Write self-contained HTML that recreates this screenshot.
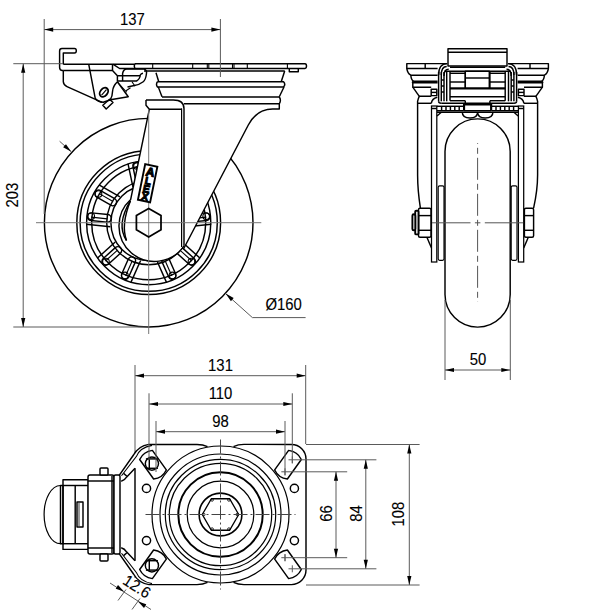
<!DOCTYPE html>
<html><head><meta charset="utf-8"><style>
html,body{margin:0;padding:0;background:#fff;width:600px;height:610px;overflow:hidden}
svg{display:block}
text{font-family:"Liberation Sans",sans-serif;fill:#000}
.t{stroke:#000;stroke-width:0.12}
</style></head><body>
<svg width="600" height="610" viewBox="0 0 600 610">
<rect width="600" height="610" fill="#fff"/>
<circle cx="148.70" cy="222.70" r="104.30" fill="#fff" stroke="#000" stroke-width="1.45" stroke-linejoin="round"/>
<circle cx="148.70" cy="222.70" r="71.90" fill="none" stroke="#000" stroke-width="1.45" stroke-linejoin="round"/>
<circle cx="148.70" cy="222.70" r="68.60" fill="none" stroke="#000" stroke-width="1.45" stroke-linejoin="round"/>
<circle cx="148.70" cy="222.70" r="62.10" fill="none" stroke="#000" stroke-width="1.45" stroke-linejoin="round"/>
<circle cx="148.70" cy="222.70" r="57.00" fill="none" stroke="#000" stroke-width="1.45" stroke-linejoin="round"/>
<circle cx="148.70" cy="222.70" r="42.00" fill="none" stroke="#000" stroke-width="1.45" stroke-linejoin="round"/>
<circle cx="148.70" cy="222.70" r="37.80" fill="none" stroke="#000" stroke-width="1.45" stroke-linejoin="round"/>
<path d="M161.05,182.90 L164.43,166.95 A3.8,3.8 0 0 0 157.00,165.37 L153.61,181.32 A3.8,3.8 0 0 0 161.05,182.90 Z" fill="none" stroke="#000" stroke-width="1.45" stroke-linejoin="round"/>
<line x1="157.82" y1="182.21" x2="161.21" y2="166.27" fill="none" stroke="#000" stroke-width="1.1"/>
<circle cx="160.42" cy="166.10" r="3.30" fill="none" stroke="#000" stroke-width="1.1"/>
<line x1="164.38" y1="187.39" x2="169.42" y2="163.72" fill="none" stroke="#000" stroke-width="1.45" stroke-linejoin="round"/>
<path d="M136.35,182.90 L132.97,166.95 A3.8,3.8 0 0 1 140.40,165.37 L143.79,181.32 A3.8,3.8 0 0 1 136.35,182.90 Z" fill="none" stroke="#000" stroke-width="1.45" stroke-linejoin="round"/>
<line x1="139.58" y1="182.21" x2="136.19" y2="166.27" fill="none" stroke="#000" stroke-width="1.1"/>
<circle cx="136.98" cy="166.10" r="3.30" fill="none" stroke="#000" stroke-width="1.1"/>
<line x1="133.02" y1="187.39" x2="127.98" y2="163.72" fill="none" stroke="#000" stroke-width="1.45" stroke-linejoin="round"/>
<path d="M114.66,198.66 L100.54,190.51 A3.8,3.8 0 0 0 96.74,197.09 L110.86,205.24 A3.8,3.8 0 0 0 114.66,198.66 Z" fill="none" stroke="#000" stroke-width="1.45" stroke-linejoin="round"/>
<line x1="113.01" y1="201.52" x2="98.89" y2="193.37" fill="none" stroke="#000" stroke-width="1.1"/>
<circle cx="98.49" cy="194.06" r="3.30" fill="none" stroke="#000" stroke-width="1.1"/>
<line x1="119.96" y1="196.87" x2="99.01" y2="184.77" fill="none" stroke="#000" stroke-width="1.45" stroke-linejoin="round"/>
<path d="M107.03,222.14 L90.82,220.44 A3.8,3.8 0 0 1 91.61,212.88 L107.82,214.58 A3.8,3.8 0 0 1 107.03,222.14 Z" fill="none" stroke="#000" stroke-width="1.45" stroke-linejoin="round"/>
<line x1="107.38" y1="218.86" x2="91.16" y2="217.16" fill="none" stroke="#000" stroke-width="1.1"/>
<circle cx="91.25" cy="216.36" r="3.30" fill="none" stroke="#000" stroke-width="1.1"/>
<line x1="110.27" y1="226.70" x2="86.20" y2="224.18" fill="none" stroke="#000" stroke-width="1.45" stroke-linejoin="round"/>
<path d="M115.32,247.64 L103.20,258.55 A3.8,3.8 0 0 0 108.29,264.20 L120.40,253.29 A3.8,3.8 0 0 0 115.32,247.64 Z" fill="none" stroke="#000" stroke-width="1.45" stroke-linejoin="round"/>
<line x1="117.52" y1="250.10" x2="105.41" y2="261.00" fill="none" stroke="#000" stroke-width="1.1"/>
<circle cx="105.95" cy="261.60" r="3.30" fill="none" stroke="#000" stroke-width="1.1"/>
<line x1="115.26" y1="242.05" x2="97.27" y2="258.24" fill="none" stroke="#000" stroke-width="1.45" stroke-linejoin="round"/>
<path d="M135.29,262.16 L128.66,277.05 A3.8,3.8 0 0 1 121.72,273.96 L128.35,259.07 A3.8,3.8 0 0 1 135.29,262.16 Z" fill="none" stroke="#000" stroke-width="1.45" stroke-linejoin="round"/>
<line x1="132.28" y1="260.82" x2="125.65" y2="275.71" fill="none" stroke="#000" stroke-width="1.1"/>
<circle cx="124.92" cy="275.38" r="3.30" fill="none" stroke="#000" stroke-width="1.1"/>
<line x1="140.63" y1="260.49" x2="130.79" y2="282.59" fill="none" stroke="#000" stroke-width="1.45" stroke-linejoin="round"/>
<path d="M162.11,262.16 L168.74,277.05 A3.8,3.8 0 0 0 175.68,273.96 L169.05,259.07 A3.8,3.8 0 0 0 162.11,262.16 Z" fill="none" stroke="#000" stroke-width="1.45" stroke-linejoin="round"/>
<line x1="165.12" y1="260.82" x2="171.75" y2="275.71" fill="none" stroke="#000" stroke-width="1.1"/>
<circle cx="172.48" cy="275.38" r="3.30" fill="none" stroke="#000" stroke-width="1.1"/>
<line x1="156.77" y1="260.49" x2="166.61" y2="282.59" fill="none" stroke="#000" stroke-width="1.45" stroke-linejoin="round"/>
<path d="M182.08,247.64 L194.20,258.55 A3.8,3.8 0 0 1 189.11,264.20 L177.00,253.29 A3.8,3.8 0 0 1 182.08,247.64 Z" fill="none" stroke="#000" stroke-width="1.45" stroke-linejoin="round"/>
<line x1="179.88" y1="250.10" x2="191.99" y2="261.00" fill="none" stroke="#000" stroke-width="1.1"/>
<circle cx="191.45" cy="261.60" r="3.30" fill="none" stroke="#000" stroke-width="1.1"/>
<line x1="182.14" y1="242.05" x2="200.13" y2="258.24" fill="none" stroke="#000" stroke-width="1.45" stroke-linejoin="round"/>
<path d="M190.37,222.14 L206.58,220.44 A3.8,3.8 0 0 0 205.79,212.88 L189.58,214.58 A3.8,3.8 0 0 0 190.37,222.14 Z" fill="none" stroke="#000" stroke-width="1.45" stroke-linejoin="round"/>
<line x1="190.02" y1="218.86" x2="206.24" y2="217.16" fill="none" stroke="#000" stroke-width="1.1"/>
<circle cx="206.15" cy="216.36" r="3.30" fill="none" stroke="#000" stroke-width="1.1"/>
<line x1="187.13" y1="226.70" x2="211.20" y2="224.18" fill="none" stroke="#000" stroke-width="1.45" stroke-linejoin="round"/>
<path d="M182.74,198.66 L196.86,190.51 A3.8,3.8 0 0 1 200.66,197.09 L186.54,205.24 A3.8,3.8 0 0 1 182.74,198.66 Z" fill="none" stroke="#000" stroke-width="1.45" stroke-linejoin="round"/>
<line x1="184.39" y1="201.52" x2="198.51" y2="193.37" fill="none" stroke="#000" stroke-width="1.1"/>
<circle cx="198.91" cy="194.06" r="3.30" fill="none" stroke="#000" stroke-width="1.1"/>
<line x1="177.44" y1="196.87" x2="198.39" y2="184.77" fill="none" stroke="#000" stroke-width="1.45" stroke-linejoin="round"/>
<path d="M146,100 L173.3,100 Q184,100 184,108.7 L184,104 L279.3,104 L279.3,109 L272.7,109 Q256.7,109 248.3,125 L183.5,249 L184,245.87 A35.6,35.6 0 0 1 130.69,199.44 L149.3,109.3 L146,105.3 Z" fill="#fff" stroke="none"/>
<path d="M149.3,109.3 L130.69,199.44 A35.6,35.6 0 1 0 184,245.87 L184,108.7 Q184,100 173.3,100 L146,100 L146,105.3 Z" fill="#fff" stroke="none"/>
<path d="M146,100 L173.3,100 Q184,100 184,108.7 L184,245.87" fill="none" stroke="#000" stroke-width="1.45" stroke-linejoin="round"/>
<line x1="181.60" y1="108.50" x2="181.60" y2="247.07" fill="none" stroke="#000" stroke-width="1.2"/>
<path d="M146,100 L146,105.3 L149.3,109.3 L130.69,199.44 A35.6,35.6 0 1 0 184,245.87" fill="none" stroke="#000" stroke-width="1.45" stroke-linejoin="round"/>
<path d="M279.3,104 L279.3,109 L272.7,109 Q256.7,109 248.3,125 L183.5,249" fill="none" stroke="#000" stroke-width="1.45" stroke-linejoin="round"/>
<line x1="149.30" y1="109.30" x2="182.00" y2="109.30" fill="none" stroke="#000" stroke-width="1.45" stroke-linejoin="round"/>
<path d="M130.39,200.94 Q115.96,224.68 126.50,240.50" fill="none" stroke="#000" stroke-width="1.45" stroke-linejoin="round"/>
<path d="M130.39,200.94 Q120.76,224.68 126.50,240.50" fill="none" stroke="#000" stroke-width="1.45" stroke-linejoin="round"/>
<path d="M135,63.8 L305,63.8 Q306.5,63.8 306.5,66.1 Q306.5,68.4 305,68.4 L135,68.4 Q133.6,66 135,63.8" fill="none" stroke="#000" stroke-width="1.45" stroke-linejoin="round"/>
<line x1="152.70" y1="63.80" x2="152.70" y2="68.40" fill="none" stroke="#000" stroke-width="1.1"/>
<line x1="192.70" y1="63.80" x2="192.70" y2="68.40" fill="none" stroke="#000" stroke-width="1.1"/>
<line x1="207.30" y1="63.80" x2="207.30" y2="68.40" fill="none" stroke="#000" stroke-width="1.1"/>
<line x1="208.80" y1="63.80" x2="208.80" y2="68.40" fill="none" stroke="#000" stroke-width="1.1"/>
<line x1="232.50" y1="63.80" x2="232.50" y2="68.40" fill="none" stroke="#000" stroke-width="1.1"/>
<line x1="234.00" y1="63.80" x2="234.00" y2="68.40" fill="none" stroke="#000" stroke-width="1.1"/>
<line x1="247.30" y1="63.80" x2="247.30" y2="68.40" fill="none" stroke="#000" stroke-width="1.1"/>
<line x1="287.40" y1="63.80" x2="287.40" y2="68.40" fill="none" stroke="#000" stroke-width="1.1"/>
<line x1="144.00" y1="71.00" x2="284.70" y2="71.00" fill="none" stroke="#000" stroke-width="1.45" stroke-linejoin="round"/>
<path d="M289.3,68.4 L289.3,71.8 L298.3,71.8 L298.3,68.4" fill="none" stroke="#000" stroke-width="1.45" stroke-linejoin="round"/>
<path d="M284.7,71.0 L281.3,81.5" fill="none" stroke="#000" stroke-width="1.45" stroke-linejoin="round"/>
<line x1="156.00" y1="72.70" x2="158.70" y2="81.50" fill="none" stroke="#000" stroke-width="1.45" stroke-linejoin="round"/>
<path d="M157.5,81.8 L283.5,81.8 Q286,84.4 283.5,87.0 L157.5,87.0 Q155.5,84.4 157.5,81.8" fill="none" stroke="#000" stroke-width="1.45" stroke-linejoin="round"/>
<path d="M284,87 L279.3,96.8" fill="none" stroke="#000" stroke-width="1.45" stroke-linejoin="round"/>
<line x1="158.30" y1="87.00" x2="162.00" y2="96.80" fill="none" stroke="#000" stroke-width="1.45" stroke-linejoin="round"/>
<path d="M162,97.0 L279.3,97.0 Q281.5,100.3 279.3,103.8 L184,103.8" fill="none" stroke="#000" stroke-width="1.45" stroke-linejoin="round"/>
<path d="M74.5,48.5 L62,48.5 Q59.6,48.5 59.6,51 L59.6,67.5 Q59.6,70.4 62.5,70.4 L63.3,70.4 M63.3,64.3 L63.3,53 L74.5,53 Q76.3,53 76.3,50.7 Q76.3,48.5 74.5,48.5" fill="none" stroke="#000" stroke-width="1.45" stroke-linejoin="round"/>
<path d="M63.3,64.3 L135,64.3" fill="none" stroke="#000" stroke-width="1.45" stroke-linejoin="round"/>
<path d="M113.25,64.3 L119.6,68.5 L135,68.5" fill="none" stroke="#000" stroke-width="1.45" stroke-linejoin="round"/>
<path d="M63.3,70.4 L112.5,70.4 L117.4,75.75 L117.4,81" fill="none" stroke="#000" stroke-width="1.45" stroke-linejoin="round"/>
<line x1="112.50" y1="64.30" x2="112.50" y2="70.40" fill="none" stroke="#000" stroke-width="1.45" stroke-linejoin="round"/>
<path d="M63.3,70.4 L63.3,81.7 Q63.6,85 67,86.6 L102.2,102.3" fill="none" stroke="#000" stroke-width="1.45" stroke-linejoin="round"/>
<path d="M88.75,64.3 L95.2,98.2 Q97.5,102.3 103.3,102.3 L110.5,99.8" fill="none" stroke="#000" stroke-width="1.45" stroke-linejoin="round"/>
<path d="M110.25,99.75 Q112.5,96 112.6,91 Q113,86 117.4,81.75 L128.25,96.75 L110.5,99.8" fill="none" stroke="#000" stroke-width="1.45" stroke-linejoin="round"/>
<path d="M102.8,105.2 L106.2,109 L113,102.5 L109.6,99.3 Z" fill="none" stroke="#000" stroke-width="1.45" stroke-linejoin="round"/>
<ellipse cx="103.9" cy="92.3" rx="3.6" ry="5.0" transform="rotate(40 103.9 92.3)" fill="none" stroke="#000" stroke-width="1.9"/>
<line x1="101.60" y1="95.20" x2="106.40" y2="89.60" fill="none" stroke="#000" stroke-width="1.2"/>
<path d="M117.4,75.75 L140.3,75.75" fill="none" stroke="#000" stroke-width="1.45" stroke-linejoin="round"/>
<path d="M117.4,81 L136.5,81 Q140,79 140.25,75 Q141,73.5 143,73.3" fill="none" stroke="#000" stroke-width="1.45" stroke-linejoin="round"/>
<path d="M122.6,81 L122.6,73.5 Q123.5,69 126.75,69 L144,69 Q147.5,70 146.25,75 Q145.5,80 143.25,81.75 Q139,85 134.25,85.5 L127.5,87" fill="none" stroke="#000" stroke-width="1.45" stroke-linejoin="round"/>
<line x1="117.75" y1="82.50" x2="126.75" y2="92.25" fill="none" stroke="#000" stroke-width="1.1"/>
<line x1="132.00" y1="81.75" x2="135.00" y2="86.25" fill="none" stroke="#000" stroke-width="1.1"/>
<line x1="126.00" y1="90.75" x2="130.50" y2="87.75" fill="none" stroke="#000" stroke-width="1.1"/>
<line x1="36.00" y1="222.70" x2="261.30" y2="222.70" fill="none" stroke="#777" stroke-width="1"/>
<line x1="148.70" y1="110.00" x2="148.70" y2="334.00" fill="none" stroke="#777" stroke-width="1"/>
<g transform="translate(147.65,183.25) rotate(11.5)"><rect x="-6.2" y="-18.2" width="12.4" height="36.4" fill="#fff" stroke="#000" stroke-width="1.9"/><text x="0.3" y="-7.4" font-size="12" font-weight="bold" text-anchor="middle" stroke="#000" stroke-width="1.1">A</text><text x="0" y="1.2" font-size="10.5" font-weight="bold" text-anchor="middle" stroke="#000" stroke-width="1.0">L</text><text x="0" y="9.4" font-size="10.5" font-weight="bold" text-anchor="middle" stroke="#000" stroke-width="1.0">E</text><text x="0" y="17.2" font-size="10.5" font-weight="bold" text-anchor="middle" stroke="#000" stroke-width="1.0">X</text></g>
<path d="M148.70,208.50 L136.40,215.60 L136.40,229.80 L148.70,236.90 L161.00,229.80 L161.00,215.60 Z" fill="none" stroke="#000" stroke-width="1.75"/>
<line x1="44.20" y1="19.00" x2="44.20" y2="214.00" fill="none" stroke="#5a5a5a" stroke-width="1"/>
<line x1="220.40" y1="19.00" x2="220.40" y2="77.00" fill="none" stroke="#5a5a5a" stroke-width="1"/>
<line x1="44.20" y1="29.60" x2="220.40" y2="29.60" fill="none" stroke="#5a5a5a" stroke-width="1"/>
<path d="M44.20,29.60 L53.20,27.50 L53.20,31.70 Z" fill="#000" stroke="none"/>
<path d="M220.40,29.60 L211.40,31.70 L211.40,27.50 Z" fill="#000" stroke="none"/>
<text class="t" x="0.00" y="0.00" font-size="16" text-anchor="middle" transform="translate(132.40,24.80) scale(0.93,1)">137</text>
<line x1="13.30" y1="63.70" x2="63.00" y2="63.70" fill="none" stroke="#5a5a5a" stroke-width="1"/>
<line x1="13.30" y1="327.00" x2="150.00" y2="327.00" fill="none" stroke="#5a5a5a" stroke-width="1"/>
<line x1="23.20" y1="63.70" x2="23.20" y2="327.00" fill="none" stroke="#5a5a5a" stroke-width="1"/>
<path d="M23.20,63.70 L25.30,72.70 L21.10,72.70 Z" fill="#000" stroke="none"/>
<path d="M23.20,327.00 L21.10,318.00 L25.30,318.00 Z" fill="#000" stroke="none"/>
<text class="t" x="0.00" y="0.00" font-size="16" text-anchor="middle" transform="translate(18.20,195.10) rotate(-90) scale(0.93,1)">203</text>
<line x1="225.60" y1="293.60" x2="252.40" y2="317.60" fill="none" stroke="#5a5a5a" stroke-width="1"/>
<line x1="252.40" y1="317.60" x2="305.60" y2="317.60" fill="none" stroke="#5a5a5a" stroke-width="1"/>
<path d="M225.60,293.60 L233.71,298.04 L230.90,301.17 Z" fill="#000" stroke="none"/>
<line x1="59.60" y1="141.25" x2="71.25" y2="151.70" fill="none" stroke="#5a5a5a" stroke-width="1"/>
<path d="M71.25,151.70 L63.15,147.25 L65.95,144.13 Z" fill="#000" stroke="none"/>
<text class="t" x="0.00" y="0.00" font-size="16" text-anchor="middle" transform="translate(283.70,310.20) scale(0.93,1)">Ø160</text>
<path d="M445,151.5 A32.6,32.6 0 0 1 510.2,151.5 L510.2,294.5 A32.6,32.6 0 0 1 445,294.5 Z" fill="#fff" stroke="#000" stroke-width="1.45" stroke-linejoin="round"/>
<rect x="438.20" y="185.8" width="5.80" height="74.5" rx="1.5" fill="#fff" stroke="#000" stroke-width="1.15"/>
<path d="M420.40,208.2 Q417.60,190 417.60,175 L417.60,101.3 Q418.30,98 419.30,96.3 L431.30,96.3" fill="none" stroke="#000" stroke-width="1.45" stroke-linejoin="round"/>
<line x1="418.00" y1="103.30" x2="431.30" y2="103.30" fill="none" stroke="#000" stroke-width="1.45" stroke-linejoin="round"/>
<rect x="418.50" y="208.2" width="12.50" height="29.1" rx="1.5" fill="#fff" stroke="#000" stroke-width="1.45" stroke-linejoin="round"/>
<line x1="418.50" y1="215.60" x2="431.00" y2="215.60" fill="none" stroke="#000" stroke-width="1.45" stroke-linejoin="round"/>
<line x1="418.50" y1="230.30" x2="431.00" y2="230.30" fill="none" stroke="#000" stroke-width="1.45" stroke-linejoin="round"/>
<path d="M427.00,237.5 L431.50,248" fill="none" stroke="#000" stroke-width="1.45" stroke-linejoin="round"/>
<path d="M431.30,103.3 Q432.00,98.5 437.30,97.3" fill="none" stroke="#000" stroke-width="1.45" stroke-linejoin="round"/>
<path d="M447.20,63.6 L406.80,63.6 L406.80,68.4 L437.60,68.4" fill="none" stroke="#000" stroke-width="1.45" stroke-linejoin="round"/>
<line x1="425.20" y1="63.60" x2="425.20" y2="68.40" fill="none" stroke="#000" stroke-width="1.45" stroke-linejoin="round"/>
<path d="M406.80,68.4 Q407.50,73.5 410.80,75.2 L437.60,75.2" fill="none" stroke="#000" stroke-width="1.45" stroke-linejoin="round"/>
<path d="M410.80,75.2 Q411.20,80 413.60,81.2 L437.60,81.2" fill="none" stroke="#000" stroke-width="1.45" stroke-linejoin="round"/>
<path d="M413.60,81.2 Q411.80,82 412.80,82.8 L437.60,82.8" fill="none" stroke="#000" stroke-width="1.45" stroke-linejoin="round"/>
<path d="M412.80,82.8 L412.80,87.2 L431.20,87.2" fill="none" stroke="#000" stroke-width="1.45" stroke-linejoin="round"/>
<path d="M412.80,87.2 L419.30,96.3" fill="none" stroke="#000" stroke-width="1.45" stroke-linejoin="round"/>
<rect x="431.20" y="89.2" width="5.60" height="6.4" fill="none" stroke="#000" stroke-width="1.45" stroke-linejoin="round"/>
<line x1="431.20" y1="92.40" x2="436.80" y2="92.40" fill="none" stroke="#000" stroke-width="1.45" stroke-linejoin="round"/>
<line x1="438.60" y1="72.00" x2="438.60" y2="101.30" fill="none" stroke="#000" stroke-width="1.45" stroke-linejoin="round"/>
<line x1="441.30" y1="72.00" x2="441.30" y2="101.30" fill="none" stroke="#000" stroke-width="1.45" stroke-linejoin="round"/>
<line x1="444.00" y1="72.00" x2="444.00" y2="101.30" fill="none" stroke="#000" stroke-width="1.45" stroke-linejoin="round"/>
<line x1="446.70" y1="72.00" x2="446.70" y2="101.30" fill="none" stroke="#000" stroke-width="1.45" stroke-linejoin="round"/>
<path d="M438.60,75 Q438.60,63.6 447.20,63.6" fill="none" stroke="#000" stroke-width="1.45" stroke-linejoin="round"/>
<path d="M441.30,75 Q441.30,66.5 446.70,66.5" fill="none" stroke="#000" stroke-width="1.45" stroke-linejoin="round"/>
<path d="M444.00,76 Q444.00,69.3 448.70,69.3" fill="none" stroke="#000" stroke-width="1.45" stroke-linejoin="round"/>
<line x1="441.30" y1="80.00" x2="444.00" y2="80.00" fill="none" stroke="#000" stroke-width="1.45" stroke-linejoin="round"/>
<line x1="441.30" y1="86.00" x2="444.00" y2="86.00" fill="none" stroke="#000" stroke-width="1.45" stroke-linejoin="round"/>
<line x1="441.30" y1="92.00" x2="444.00" y2="92.00" fill="none" stroke="#000" stroke-width="1.45" stroke-linejoin="round"/>
<path d="M438.60,101.3 Q438.60,103.3 441.30,103.3" fill="none" stroke="#000" stroke-width="1.45" stroke-linejoin="round"/>
<line x1="441.30" y1="103.30" x2="513.90" y2="103.30" fill="none" stroke="#000" stroke-width="1.45" stroke-linejoin="round"/>
<line x1="450.00" y1="67.30" x2="505.20" y2="67.30" fill="none" stroke="#000" stroke-width="1.45" stroke-linejoin="round"/>
<line x1="444.70" y1="71.30" x2="510.50" y2="71.30" fill="none" stroke="#000" stroke-width="1.45" stroke-linejoin="round"/>
<line x1="450.00" y1="73.30" x2="465.30" y2="73.30" fill="none" stroke="#000" stroke-width="1.45" stroke-linejoin="round"/>
<line x1="450.00" y1="82.00" x2="465.30" y2="82.00" fill="none" stroke="#000" stroke-width="1.45" stroke-linejoin="round"/>
<line x1="450.00" y1="88.00" x2="465.30" y2="88.00" fill="none" stroke="#000" stroke-width="1.45" stroke-linejoin="round"/>
<line x1="450.00" y1="71.30" x2="450.00" y2="100.70" fill="none" stroke="#000" stroke-width="1.45" stroke-linejoin="round"/>
<line x1="465.30" y1="71.30" x2="465.30" y2="88.00" fill="none" stroke="#000" stroke-width="1.45" stroke-linejoin="round"/>
<line x1="450.00" y1="88.70" x2="505.20" y2="88.70" fill="none" stroke="#000" stroke-width="1.45" stroke-linejoin="round"/>
<line x1="450.00" y1="96.70" x2="505.20" y2="96.70" fill="none" stroke="#000" stroke-width="1.45" stroke-linejoin="round"/>
<line x1="450.00" y1="100.70" x2="465.30" y2="100.70" fill="none" stroke="#000" stroke-width="1.45" stroke-linejoin="round"/>
<rect x="431.50" y="106" width="5.30" height="156" fill="#fff" stroke="#000" stroke-width="1.25"/>
<line x1="431.50" y1="108.50" x2="436.80" y2="108.50" fill="none" stroke="#000" stroke-width="1.45" stroke-linejoin="round"/>
<line x1="437.00" y1="106.30" x2="463.70" y2="106.30" fill="none" stroke="#000" stroke-width="1.45" stroke-linejoin="round"/>
<line x1="437.00" y1="110.70" x2="463.70" y2="110.70" fill="none" stroke="#000" stroke-width="1.45" stroke-linejoin="round"/>
<line x1="441.60" y1="106.30" x2="441.60" y2="110.70" fill="none" stroke="#000" stroke-width="1.45" stroke-linejoin="round"/>
<line x1="446.00" y1="106.30" x2="446.00" y2="110.70" fill="none" stroke="#000" stroke-width="1.45" stroke-linejoin="round"/>
<line x1="450.40" y1="106.30" x2="450.40" y2="110.70" fill="none" stroke="#000" stroke-width="1.45" stroke-linejoin="round"/>
<line x1="454.80" y1="106.30" x2="454.80" y2="110.70" fill="none" stroke="#000" stroke-width="1.45" stroke-linejoin="round"/>
<line x1="459.20" y1="106.30" x2="459.20" y2="110.70" fill="none" stroke="#000" stroke-width="1.45" stroke-linejoin="round"/>
<line x1="437.00" y1="112.30" x2="518.20" y2="112.30" fill="none" stroke="#000" stroke-width="1.45" stroke-linejoin="round"/>
<line x1="463.70" y1="103.30" x2="463.70" y2="110.70" fill="none" stroke="#000" stroke-width="1.45" stroke-linejoin="round"/>
<path d="M462.30,112.3 Q462.30,118 470.00,118 Q477.60,118 477.60,112.3" fill="none" stroke="#000" stroke-width="1.45" stroke-linejoin="round"/>
<path d="M437.00,116 L441.30,112.3" fill="none" stroke="#000" stroke-width="1.45" stroke-linejoin="round"/>
<rect x="511.20" y="185.8" width="5.80" height="74.5" rx="1.5" fill="#fff" stroke="#000" stroke-width="1.15"/>
<path d="M533.60,208.2 Q537.60,190 537.60,175 L537.60,101.3 Q536.90,98 535.90,96.3 L523.90,96.3" fill="none" stroke="#000" stroke-width="1.45" stroke-linejoin="round"/>
<line x1="537.20" y1="103.30" x2="523.90" y2="103.30" fill="none" stroke="#000" stroke-width="1.45" stroke-linejoin="round"/>
<rect x="524.40" y="208.2" width="9.20" height="29.1" rx="1.5" fill="#fff" stroke="#000" stroke-width="1.45" stroke-linejoin="round"/>
<line x1="524.40" y1="215.60" x2="533.60" y2="215.60" fill="none" stroke="#000" stroke-width="1.45" stroke-linejoin="round"/>
<line x1="524.40" y1="230.30" x2="533.60" y2="230.30" fill="none" stroke="#000" stroke-width="1.45" stroke-linejoin="round"/>
<path d="M528.20,237.5 L523.70,248" fill="none" stroke="#000" stroke-width="1.45" stroke-linejoin="round"/>
<path d="M523.90,103.3 Q523.20,98.5 517.90,97.3" fill="none" stroke="#000" stroke-width="1.45" stroke-linejoin="round"/>
<path d="M508.00,63.6 L548.40,63.6 L548.40,68.4 L517.60,68.4" fill="none" stroke="#000" stroke-width="1.45" stroke-linejoin="round"/>
<line x1="530.00" y1="63.60" x2="530.00" y2="68.40" fill="none" stroke="#000" stroke-width="1.45" stroke-linejoin="round"/>
<path d="M548.40,68.4 Q547.70,73.5 544.40,75.2 L517.60,75.2" fill="none" stroke="#000" stroke-width="1.45" stroke-linejoin="round"/>
<path d="M544.40,75.2 Q544.00,80 541.60,81.2 L517.60,81.2" fill="none" stroke="#000" stroke-width="1.45" stroke-linejoin="round"/>
<path d="M541.60,81.2 Q543.40,82 542.40,82.8 L517.60,82.8" fill="none" stroke="#000" stroke-width="1.45" stroke-linejoin="round"/>
<path d="M542.40,82.8 L542.40,87.2 L524.00,87.2" fill="none" stroke="#000" stroke-width="1.45" stroke-linejoin="round"/>
<path d="M542.40,87.2 L535.90,96.3" fill="none" stroke="#000" stroke-width="1.45" stroke-linejoin="round"/>
<rect x="518.40" y="89.2" width="5.60" height="6.4" fill="none" stroke="#000" stroke-width="1.45" stroke-linejoin="round"/>
<line x1="518.40" y1="92.40" x2="524.00" y2="92.40" fill="none" stroke="#000" stroke-width="1.45" stroke-linejoin="round"/>
<line x1="516.60" y1="72.00" x2="516.60" y2="101.30" fill="none" stroke="#000" stroke-width="1.45" stroke-linejoin="round"/>
<line x1="513.90" y1="72.00" x2="513.90" y2="101.30" fill="none" stroke="#000" stroke-width="1.45" stroke-linejoin="round"/>
<line x1="511.20" y1="72.00" x2="511.20" y2="101.30" fill="none" stroke="#000" stroke-width="1.45" stroke-linejoin="round"/>
<line x1="508.50" y1="72.00" x2="508.50" y2="101.30" fill="none" stroke="#000" stroke-width="1.45" stroke-linejoin="round"/>
<path d="M516.60,75 Q516.60,63.6 508.00,63.6" fill="none" stroke="#000" stroke-width="1.45" stroke-linejoin="round"/>
<path d="M513.90,75 Q513.90,66.5 508.50,66.5" fill="none" stroke="#000" stroke-width="1.45" stroke-linejoin="round"/>
<path d="M511.20,76 Q511.20,69.3 506.50,69.3" fill="none" stroke="#000" stroke-width="1.45" stroke-linejoin="round"/>
<line x1="513.90" y1="80.00" x2="511.20" y2="80.00" fill="none" stroke="#000" stroke-width="1.45" stroke-linejoin="round"/>
<line x1="513.90" y1="86.00" x2="511.20" y2="86.00" fill="none" stroke="#000" stroke-width="1.45" stroke-linejoin="round"/>
<line x1="513.90" y1="92.00" x2="511.20" y2="92.00" fill="none" stroke="#000" stroke-width="1.45" stroke-linejoin="round"/>
<path d="M516.60,101.3 Q516.60,103.3 513.90,103.3" fill="none" stroke="#000" stroke-width="1.45" stroke-linejoin="round"/>
<line x1="505.20" y1="73.30" x2="489.90" y2="73.30" fill="none" stroke="#000" stroke-width="1.45" stroke-linejoin="round"/>
<line x1="505.20" y1="82.00" x2="489.90" y2="82.00" fill="none" stroke="#000" stroke-width="1.45" stroke-linejoin="round"/>
<line x1="505.20" y1="88.00" x2="489.90" y2="88.00" fill="none" stroke="#000" stroke-width="1.45" stroke-linejoin="round"/>
<line x1="505.20" y1="71.30" x2="505.20" y2="100.70" fill="none" stroke="#000" stroke-width="1.45" stroke-linejoin="round"/>
<line x1="489.90" y1="71.30" x2="489.90" y2="88.00" fill="none" stroke="#000" stroke-width="1.45" stroke-linejoin="round"/>
<line x1="505.20" y1="100.70" x2="489.90" y2="100.70" fill="none" stroke="#000" stroke-width="1.45" stroke-linejoin="round"/>
<rect x="518.40" y="106" width="5.30" height="156" fill="#fff" stroke="#000" stroke-width="1.25"/>
<line x1="518.40" y1="108.50" x2="523.70" y2="108.50" fill="none" stroke="#000" stroke-width="1.45" stroke-linejoin="round"/>
<line x1="518.20" y1="106.30" x2="491.50" y2="106.30" fill="none" stroke="#000" stroke-width="1.45" stroke-linejoin="round"/>
<line x1="518.20" y1="110.70" x2="491.50" y2="110.70" fill="none" stroke="#000" stroke-width="1.45" stroke-linejoin="round"/>
<line x1="513.60" y1="106.30" x2="513.60" y2="110.70" fill="none" stroke="#000" stroke-width="1.45" stroke-linejoin="round"/>
<line x1="509.20" y1="106.30" x2="509.20" y2="110.70" fill="none" stroke="#000" stroke-width="1.45" stroke-linejoin="round"/>
<line x1="504.80" y1="106.30" x2="504.80" y2="110.70" fill="none" stroke="#000" stroke-width="1.45" stroke-linejoin="round"/>
<line x1="500.40" y1="106.30" x2="500.40" y2="110.70" fill="none" stroke="#000" stroke-width="1.45" stroke-linejoin="round"/>
<line x1="496.00" y1="106.30" x2="496.00" y2="110.70" fill="none" stroke="#000" stroke-width="1.45" stroke-linejoin="round"/>
<line x1="491.50" y1="103.30" x2="491.50" y2="110.70" fill="none" stroke="#000" stroke-width="1.45" stroke-linejoin="round"/>
<path d="M492.90,112.3 Q492.90,118 485.20,118 Q477.60,118 477.60,112.3" fill="none" stroke="#000" stroke-width="1.45" stroke-linejoin="round"/>
<path d="M518.20,116 L513.90,112.3" fill="none" stroke="#000" stroke-width="1.45" stroke-linejoin="round"/>
<rect x="448" y="48.7" width="59" height="17.3" fill="#fff" stroke="#000" stroke-width="1.45" stroke-linejoin="round"/>
<line x1="448.00" y1="52.20" x2="507.00" y2="52.20" fill="none" stroke="#000" stroke-width="1.45" stroke-linejoin="round"/>
<rect x="465.3" y="71.3" width="24" height="16.7" fill="none" stroke="#000" stroke-width="1.45" stroke-linejoin="round"/>
<line x1="465.30" y1="78.00" x2="489.30" y2="78.00" fill="none" stroke="#000" stroke-width="1.45" stroke-linejoin="round"/>
<line x1="465.30" y1="100.70" x2="465.30" y2="103.30" fill="none" stroke="#000" stroke-width="1.45" stroke-linejoin="round"/>
<line x1="489.90" y1="100.70" x2="489.90" y2="103.30" fill="none" stroke="#000" stroke-width="1.45" stroke-linejoin="round"/>
<rect x="464.4" y="104.7" width="26.4" height="6.1" fill="none" stroke="#000" stroke-width="1.45" stroke-linejoin="round"/>
<rect x="415.2" y="210.7" width="3.3" height="23.7" rx="1" fill="#fff" stroke="#000" stroke-width="1.9"/>
<rect x="412.4" y="214.3" width="2.9" height="16" rx="1.4" fill="#fff" stroke="#000" stroke-width="1.9"/>
<line x1="477.60" y1="143.00" x2="477.60" y2="302.00" fill="none" stroke="#555" stroke-width="1" stroke-dasharray="22,4,6,4" stroke-dashoffset="21.2"/>
<line x1="432.00" y1="222.80" x2="523.20" y2="222.80" fill="none" stroke="#555" stroke-width="1" stroke-dasharray="38.5,4.4,5.5,4.4,40"/>
<line x1="445.00" y1="300.00" x2="445.00" y2="380.00" fill="none" stroke="#5a5a5a" stroke-width="1"/>
<line x1="510.30" y1="300.00" x2="510.30" y2="380.00" fill="none" stroke="#5a5a5a" stroke-width="1"/>
<line x1="445.00" y1="370.00" x2="510.30" y2="370.00" fill="none" stroke="#5a5a5a" stroke-width="1"/>
<path d="M445.00,370.00 L454.00,367.90 L454.00,372.10 Z" fill="#000" stroke="none"/>
<path d="M510.30,370.00 L501.30,372.10 L501.30,367.90 Z" fill="#000" stroke="none"/>
<text class="t" x="0.00" y="0.00" font-size="16" text-anchor="middle" transform="translate(477.90,365.20) scale(0.93,1)">50</text>
<line x1="135.00" y1="375.70" x2="305.70" y2="375.70" fill="none" stroke="#5a5a5a" stroke-width="1"/>
<path d="M135.00,375.70 L144.00,373.60 L144.00,377.80 Z" fill="#000" stroke="none"/>
<path d="M305.70,375.70 L296.70,377.80 L296.70,373.60 Z" fill="#000" stroke="none"/>
<text class="t" x="0.00" y="0.00" font-size="16" text-anchor="middle" transform="translate(220.50,370.80) scale(0.93,1)">131</text>
<line x1="149.00" y1="404.00" x2="292.30" y2="404.00" fill="none" stroke="#5a5a5a" stroke-width="1"/>
<path d="M149.00,404.00 L158.00,401.90 L158.00,406.10 Z" fill="#000" stroke="none"/>
<path d="M292.30,404.00 L283.30,406.10 L283.30,401.90 Z" fill="#000" stroke="none"/>
<text class="t" x="0.00" y="0.00" font-size="16" text-anchor="middle" transform="translate(220.50,399.30) scale(0.93,1)">110</text>
<line x1="156.00" y1="431.70" x2="285.00" y2="431.70" fill="none" stroke="#5a5a5a" stroke-width="1"/>
<path d="M156.00,431.70 L165.00,429.60 L165.00,433.80 Z" fill="#000" stroke="none"/>
<path d="M285.00,431.70 L276.00,433.80 L276.00,429.60 Z" fill="#000" stroke="none"/>
<text class="t" x="0.00" y="0.00" font-size="16" text-anchor="middle" transform="translate(220.50,427.30) scale(0.93,1)">98</text>
<line x1="135.00" y1="365.00" x2="135.00" y2="578.00" fill="none" stroke="#5a5a5a" stroke-width="1"/>
<line x1="305.70" y1="365.00" x2="305.70" y2="444.00" fill="none" stroke="#5a5a5a" stroke-width="1"/>
<path d="M148.8,444.4 L291.5,444.4 A14.5,14.5 0 0 1 306,458.9 L306,570 A14.5,14.5 0 0 1 291.5,584.6 L149,584.6 Q138.5,583 133.5,574 L118.3,552.3 L118.3,476.7 L133.5,455 Q138.5,446 148.8,444.4 Z" fill="#fff" stroke="none"/>
<path d="M148.8,444.4 L197,444.4 Q203,444.5 207.5,446.6 M233.5,446.6 Q238,444.5 244,444.4 L291.5,444.4 A14.5,14.5 0 0 1 306,458.9 L306,570 A14.5,14.5 0 0 1 291.5,584.6 L244,584.6 Q238,584.5 233.5,582.4 M207.5,582.4 Q203,584.5 197,584.6 L149,584.6" fill="none" stroke="#000" stroke-width="1.45" stroke-linejoin="round"/>
<line x1="135.00" y1="468.30" x2="135.00" y2="560.70" fill="none" stroke="#000" stroke-width="1.45" stroke-linejoin="round"/>
<path d="M153.62,479.00 A16.21,16.21 0 0 0 166.32,469.94 L152.38,450.40 A16.21,16.21 0 0 0 139.68,459.46 Z" fill="#fff" stroke="#000" stroke-width="1.45" stroke-linejoin="round"/>
<path d="M301.32,459.46 A16.21,16.21 0 0 0 288.62,450.40 L274.68,469.94 A16.21,16.21 0 0 0 287.38,479.00 Z" fill="#fff" stroke="#000" stroke-width="1.45" stroke-linejoin="round"/>
<path d="M166.32,559.06 A16.21,16.21 0 0 0 153.62,550.00 L139.68,569.54 A16.21,16.21 0 0 0 152.38,578.60 Z" fill="#fff" stroke="#000" stroke-width="1.45" stroke-linejoin="round"/>
<path d="M288.62,578.60 A16.21,16.21 0 0 0 301.32,569.54 L287.38,550.00 A16.21,16.21 0 0 0 274.68,559.06 Z" fill="#fff" stroke="#000" stroke-width="1.45" stroke-linejoin="round"/>
<circle cx="151.90" cy="463.60" r="6.60" fill="none" stroke="#000" stroke-width="1.45" stroke-linejoin="round"/>
<line x1="145.90" y1="458.90" x2="157.90" y2="458.90" fill="none" stroke="#000" stroke-width="1.45" stroke-linejoin="round"/>
<line x1="145.90" y1="468.30" x2="157.90" y2="468.30" fill="none" stroke="#000" stroke-width="1.45" stroke-linejoin="round"/>
<line x1="149.30" y1="458.60" x2="149.30" y2="468.60" fill="none" stroke="#000" stroke-width="1.45" stroke-linejoin="round"/>
<circle cx="151.90" cy="565.40" r="6.60" fill="none" stroke="#000" stroke-width="1.45" stroke-linejoin="round"/>
<line x1="145.90" y1="560.70" x2="157.90" y2="560.70" fill="none" stroke="#000" stroke-width="1.45" stroke-linejoin="round"/>
<line x1="145.90" y1="570.10" x2="157.90" y2="570.10" fill="none" stroke="#000" stroke-width="1.45" stroke-linejoin="round"/>
<line x1="149.30" y1="560.40" x2="149.30" y2="570.40" fill="none" stroke="#000" stroke-width="1.45" stroke-linejoin="round"/>
<circle cx="146.50" cy="488.40" r="4.10" fill="none" stroke="#000" stroke-width="1.45" stroke-linejoin="round"/>
<circle cx="294.40" cy="488.40" r="4.10" fill="none" stroke="#000" stroke-width="1.45" stroke-linejoin="round"/>
<circle cx="146.50" cy="540.60" r="4.10" fill="none" stroke="#000" stroke-width="1.45" stroke-linejoin="round"/>
<circle cx="294.40" cy="540.60" r="4.10" fill="none" stroke="#000" stroke-width="1.45" stroke-linejoin="round"/>
<path d="M118.3,476.7 L133.5,455 Q138.5,446 148.8,444.4" fill="none" stroke="#000" stroke-width="1.45" stroke-linejoin="round"/>
<path d="M121.2,481.3 Q124.5,480.5 126.75,476.9 L135,468.3" fill="none" stroke="#000" stroke-width="1.45" stroke-linejoin="round"/>
<path d="M121.5,475.75 L136.3,456.6 Q139.8,447.6 152,445.4" fill="none" stroke="#000" stroke-width="1.1"/>
<line x1="123.60" y1="473.40" x2="126.90" y2="476.30" fill="none" stroke="#000" stroke-width="1.45" stroke-linejoin="round"/>
<path d="M118.3,552.3 L133.5,574 Q138.5,583 149,584.6" fill="none" stroke="#000" stroke-width="1.45" stroke-linejoin="round"/>
<path d="M121.2,547.7 Q124.5,548.5 126.75,552.1 L135,560.7" fill="none" stroke="#000" stroke-width="1.45" stroke-linejoin="round"/>
<path d="M121.5,553.25 L136.3,572.4 Q139.8,581.4 152,583.6" fill="none" stroke="#000" stroke-width="1.1"/>
<line x1="123.60" y1="555.60" x2="126.90" y2="552.70" fill="none" stroke="#000" stroke-width="1.45" stroke-linejoin="round"/>
<circle cx="220.50" cy="514.50" r="68.50" fill="none" stroke="#000" stroke-width="1.2"/>
<circle cx="220.50" cy="514.50" r="60.50" fill="none" stroke="#000" stroke-width="1.2"/>
<circle cx="220.50" cy="514.50" r="55.20" fill="none" stroke="#000" stroke-width="1.2"/>
<circle cx="220.50" cy="514.50" r="51.20" fill="none" stroke="#000" stroke-width="1.2"/>
<circle cx="220.50" cy="514.50" r="42.20" fill="none" stroke="#000" stroke-width="2.0"/>
<circle cx="220.50" cy="514.50" r="33.30" fill="none" stroke="#000" stroke-width="1.2"/>
<circle cx="220.50" cy="514.50" r="21.40" fill="none" stroke="#000" stroke-width="1.6"/>
<path d="M238.70,514.50 L229.60,498.74 L211.40,498.74 L202.30,514.50 L211.40,530.26 L229.60,530.26 Z" fill="none" stroke="#000" stroke-width="1.3"/>
<circle cx="237.30" cy="514.50" r="1.30" fill="none" stroke="#000" stroke-width="0.8"/>
<circle cx="228.90" cy="499.95" r="1.30" fill="none" stroke="#000" stroke-width="0.8"/>
<circle cx="212.10" cy="499.95" r="1.30" fill="none" stroke="#000" stroke-width="0.8"/>
<circle cx="203.70" cy="514.50" r="1.30" fill="none" stroke="#000" stroke-width="0.8"/>
<circle cx="212.10" cy="529.05" r="1.30" fill="none" stroke="#000" stroke-width="0.8"/>
<circle cx="228.90" cy="529.05" r="1.30" fill="none" stroke="#000" stroke-width="0.8"/>
<line x1="145.50" y1="514.50" x2="295.50" y2="514.50" fill="none" stroke="#444" stroke-width="1" stroke-dasharray="14,3,2,3"/>
<line x1="220.50" y1="439.50" x2="220.50" y2="589.50" fill="none" stroke="#444" stroke-width="1" stroke-dasharray="14,3,2,3"/>
<line x1="149.00" y1="393.30" x2="149.00" y2="460.00" fill="none" stroke="#5a5a5a" stroke-width="1"/>
<line x1="292.30" y1="393.30" x2="292.30" y2="463.30" fill="none" stroke="#5a5a5a" stroke-width="1"/>
<line x1="156.00" y1="421.00" x2="156.00" y2="472.00" fill="none" stroke="#5a5a5a" stroke-width="1"/>
<line x1="285.00" y1="421.00" x2="285.00" y2="475.30" fill="none" stroke="#5a5a5a" stroke-width="1"/>
<line x1="292.30" y1="456.30" x2="292.30" y2="463.30" fill="none" stroke="#5a5a5a" stroke-width="1"/>
<line x1="285.00" y1="468.30" x2="285.00" y2="475.30" fill="none" stroke="#5a5a5a" stroke-width="1"/>
<line x1="285.00" y1="554.20" x2="285.00" y2="561.20" fill="none" stroke="#5a5a5a" stroke-width="1"/>
<line x1="292.30" y1="565.30" x2="292.30" y2="572.30" fill="none" stroke="#5a5a5a" stroke-width="1"/>
<line x1="285.00" y1="554.20" x2="285.00" y2="561.20" fill="none" stroke="#5a5a5a" stroke-width="1"/>
<line x1="306.00" y1="444.50" x2="419.60" y2="444.50" fill="none" stroke="#5a5a5a" stroke-width="1"/>
<line x1="288.50" y1="459.80" x2="376.40" y2="459.80" fill="none" stroke="#5a5a5a" stroke-width="1"/>
<line x1="281.30" y1="471.80" x2="347.20" y2="471.80" fill="none" stroke="#5a5a5a" stroke-width="1"/>
<line x1="281.30" y1="557.70" x2="347.20" y2="557.70" fill="none" stroke="#5a5a5a" stroke-width="1"/>
<line x1="288.50" y1="568.80" x2="376.40" y2="568.80" fill="none" stroke="#5a5a5a" stroke-width="1"/>
<line x1="306.00" y1="585.00" x2="419.60" y2="585.00" fill="none" stroke="#5a5a5a" stroke-width="1"/>
<line x1="336.00" y1="471.80" x2="336.00" y2="557.70" fill="none" stroke="#5a5a5a" stroke-width="1"/>
<path d="M336.00,471.80 L338.10,480.80 L333.90,480.80 Z" fill="#000" stroke="none"/>
<path d="M336.00,557.70 L333.90,548.70 L338.10,548.70 Z" fill="#000" stroke="none"/>
<line x1="365.80" y1="459.80" x2="365.80" y2="568.80" fill="none" stroke="#5a5a5a" stroke-width="1"/>
<path d="M365.80,459.80 L367.90,468.80 L363.70,468.80 Z" fill="#000" stroke="none"/>
<path d="M365.80,568.80 L363.70,559.80 L367.90,559.80 Z" fill="#000" stroke="none"/>
<line x1="409.30" y1="444.50" x2="409.30" y2="585.00" fill="none" stroke="#5a5a5a" stroke-width="1"/>
<path d="M409.30,444.50 L411.40,453.50 L407.20,453.50 Z" fill="#000" stroke="none"/>
<path d="M409.30,585.00 L407.20,576.00 L411.40,576.00 Z" fill="#000" stroke="none"/>
<text class="t" x="0.00" y="0.00" font-size="16" text-anchor="middle" transform="translate(331.80,513.60) rotate(-90) scale(0.93,1)">66</text>
<text class="t" x="0.00" y="0.00" font-size="16" text-anchor="middle" transform="translate(361.80,513.60) rotate(-90) scale(0.93,1)">84</text>
<text class="t" x="0.00" y="0.00" font-size="16" text-anchor="middle" transform="translate(404.30,514.10) rotate(-90) scale(0.93,1)">108</text>
<path d="M60.5,485.5 A16.4,29.1 0 0 0 60.5,543.7" fill="#fff" stroke="#000" stroke-width="1.2"/>
<rect x="63" y="479.8" width="25.4" height="69.6" fill="#fff" stroke="#000" stroke-width="1.45" stroke-linejoin="round"/>
<rect x="60.5" y="485.5" width="2.5" height="58.2" fill="none" stroke="#000" stroke-width="1.45" stroke-linejoin="round"/>
<line x1="75.20" y1="485.50" x2="75.20" y2="543.70" fill="none" stroke="#000" stroke-width="1.45" stroke-linejoin="round"/>
<line x1="63.00" y1="485.50" x2="88.40" y2="485.50" fill="none" stroke="#000" stroke-width="1.45" stroke-linejoin="round"/>
<line x1="63.00" y1="543.70" x2="88.40" y2="543.70" fill="none" stroke="#000" stroke-width="1.45" stroke-linejoin="round"/>
<rect x="77" y="502" width="6" height="25" fill="none" stroke="#000" stroke-width="1.45" stroke-linejoin="round"/>
<line x1="79.00" y1="503.00" x2="79.00" y2="526.00" fill="none" stroke="#000" stroke-width="0.8"/>
<rect x="88" y="475" width="26" height="79" rx="2" fill="#fff" stroke="#000" stroke-width="1.45" stroke-linejoin="round"/>
<line x1="88.00" y1="481.00" x2="114.00" y2="481.00" fill="none" stroke="#000" stroke-width="1.45" stroke-linejoin="round"/>
<line x1="88.00" y1="548.00" x2="114.00" y2="548.00" fill="none" stroke="#000" stroke-width="1.45" stroke-linejoin="round"/>
<rect x="114" y="475" width="6" height="79" rx="1.5" fill="#fff" stroke="#000" stroke-width="1.45" stroke-linejoin="round"/>
<line x1="112.00" y1="476.00" x2="112.00" y2="553.00" fill="none" stroke="#000" stroke-width="1.45" stroke-linejoin="round"/>
<rect x="100" y="468" width="8" height="7" rx="1" fill="#fff" stroke="#000" stroke-width="1.45" stroke-linejoin="round"/>
<rect x="100" y="554" width="8" height="7" rx="1" fill="#fff" stroke="#000" stroke-width="1.45" stroke-linejoin="round"/>
<line x1="110.00" y1="583.00" x2="151.00" y2="609.50" fill="none" stroke="#5a5a5a" stroke-width="1"/>
<path d="M124.00,591.50 L115.72,588.65 L118.00,585.12 Z" fill="#000" stroke="none"/>
<path d="M138.00,601.50 L146.28,604.35 L144.00,607.88 Z" fill="#000" stroke="none"/>
<line x1="118.00" y1="600.50" x2="126.00" y2="589.50" fill="none" stroke="#5a5a5a" stroke-width="1"/>
<line x1="132.00" y1="609.50" x2="140.00" y2="598.50" fill="none" stroke="#5a5a5a" stroke-width="1"/>
<text class="t" x="0.00" y="0.00" font-size="16" text-anchor="middle" transform="translate(134.00,591.10) rotate(32.9) scale(0.93,1)">12.6</text>
</svg>
</body></html>
